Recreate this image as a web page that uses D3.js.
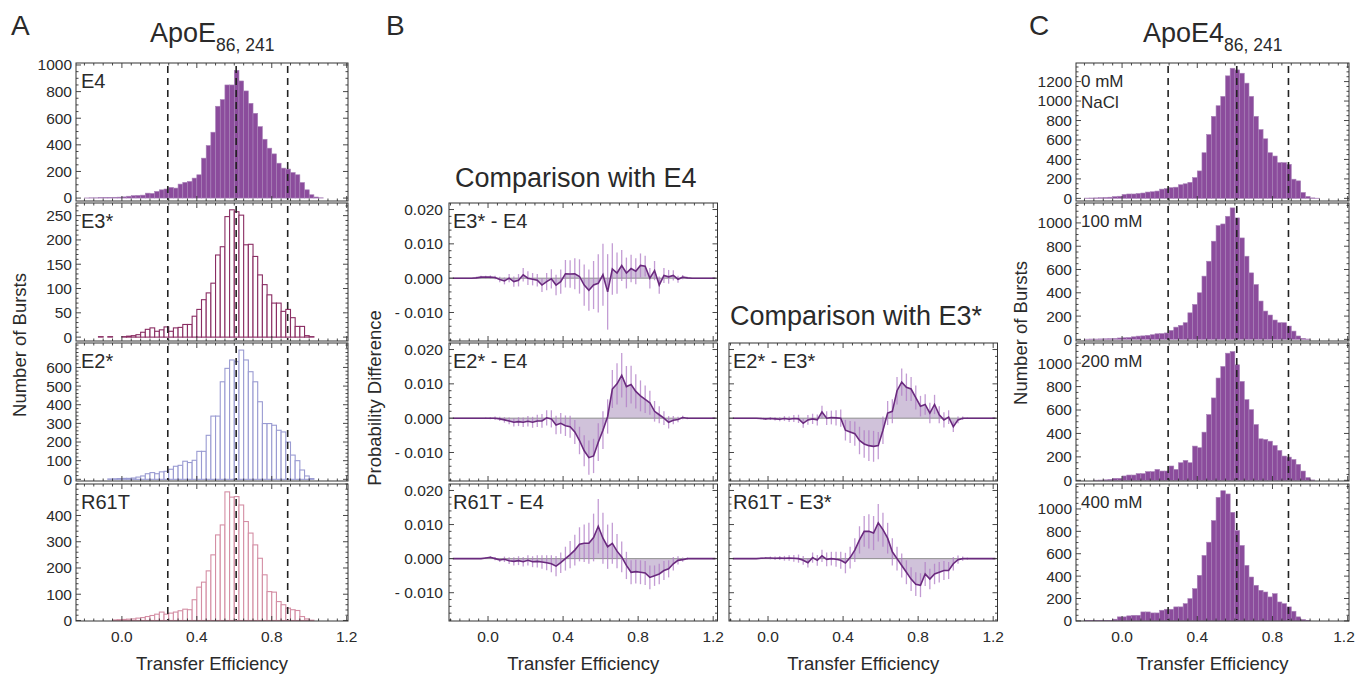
<!DOCTYPE html>
<html><head><meta charset="utf-8">
<script src="https://cdn.jsdelivr.net/npm/d3@7"></script>
<style>
body{margin:0;background:#fff}
svg{display:block}
text{font-family:"Liberation Sans",Arial,Helvetica,sans-serif;fill:#2a2a2a}
</style>
</head><body>
<svg id="chart" width="1356" height="675"></svg>
<script>
// ---------------- DATA ----------------
const binStart = -0.2;      // left edge of first histogram bin (transfer efficiency)
const binWidth = 0.025;
const dashedE = [0.245, 0.61, 0.885];
const xTickValues = [0.0, 0.4, 0.8, 1.2];

// Panel A: ApoE86,241 variants (number of bursts per bin)
const histE4 = [1,2,2,3,4,5,6,7,9,14,18,20,22,
  37,35,50,62,68,80,75,105,118,125,150,175,300,
  395,495,690,740,850,850,960,880,805,712,637,537,442,
  375,332,262,225,218,192,175,117,62,25,8,2,0];
const histE3 = [0,0,0,1,0,1,0,0,1,2,3,5,10,
  16,19,12,15,21,12,19,20,26,26,43,57,77,
  91,111,169,186,248,262,258,251,190,191,166,128,108,
  87,70,70,53,57,40,22,22,3,1,0,0,0];
const histE2 = [0,0,0,0,0,2,3,4,5,5,7,12,18,
  30,36,30,40,43,54,70,75,97,90,102,150,150,
  236,339,339,523,595,640,631,693,640,577,523,416,299,
  299,290,263,254,200,130,100,50,18,4,0,0,0];
const histR61T = [0,0,0,0,0,0,2,3,4,5,6,9,11,
  15,19,24,32,24,28,32,37,43,41,79,127,146,
  189,250,326,364,490,470,472,440,377,333,288,237,174,
  110,108,72,60,47,41,38,15,6,1,0,0,0];

// Panel C: ApoE4 86,241 at different NaCl concentrations
const hist0mM = [3,4,5,7,9,12,18,22,40,45,45,50,55,
  65,68,75,95,100,110,115,140,150,165,214,282,469,
  656,843,952,1048,1259,1337,1320,1286,1184,1048,843,707,612,
  469,435,367,367,350,197,180,61,20,5,2,0,0];
const hist100mM = [2,3,3,4,5,6,8,12,14,16,22,28,30,
  35,40,48,50,55,77,105,120,143,228,300,400,543,
  671,843,977,991,1057,1129,1043,871,714,571,471,329,243,
  209,166,143,143,114,71,29,9,3,0,0,0,0];
const hist200mM = [0,0,1,2,4,8,17,17,37,45,45,57,57,
  74,74,93,79,79,122,93,150,170,150,292,278,411,
  561,703,873,972,1085,1099,986,844,688,603,476,354,348,
  334,297,255,207,198,178,136,79,23,3,0,0,0];
const hist400mM = [2,3,3,4,5,5,15,36,36,45,50,50,80,
  80,71,71,95,104,104,125,125,154,199,288,407,585,
  703,896,1104,1163,1134,970,807,674,496,392,318,273,258,
  214,243,169,154,125,86,36,12,3,0,0,0,0];

// Panel B: probability differences at bin centres
const diffStart = -0.1875;
const diffStep = 0.025;
const dE3E4 = [0,0,0,0,0,0.0001,0.0003,0.0003,0.0003,0.0002,
  -0.0004,-0.0008,0,-0.001,-0.0006,0.001,0,-0.0003,-0.0006,-0.002,
  -0.001,-0.0002,-0.002,-0.001,0.0013,0.0012,0.0013,0.0005,-0.002,-0.0035,
  -0.002,-0.0015,0.001,-0.004,0.0027,0.0015,0.0037,0.0015,0.0028,0.002,
  0.0037,0.0035,0,0.0022,-0.002,0.0008,0.0004,0.0008,-0.0003,0.0003,
  0.0001,0,0,0,0,0,0];
const eE3E4 = [0,0,0,0,0,0.0003,0.0004,0.0004,0.0005,0.0005,
  0.0008,0.001,0.0012,0.0015,0.0018,0.002,0.002,0.0018,0.0018,0.002,
  0.0025,0.0028,0.003,0.0035,0.004,0.004,0.0045,0.005,0.006,0.006,
  0.007,0.0085,0.009,0.011,0.0075,0.006,0.0045,0.0045,0.004,0.0038,
  0.0035,0.003,0.003,0.0028,0.0025,0.0022,0.002,0.0015,0.001,0.0006,
  0.0003,0,0,0,0,0,0];
const dE2E4 = [0,0,0,0,0,0,0,0,0,0,
  -0.0002,-0.0005,-0.0008,-0.0012,-0.001,-0.0012,-0.0009,-0.0012,-0.0008,-0.0008,
  0.0001,-0.0002,-0.002,-0.0015,-0.0022,-0.0025,-0.004,-0.0065,-0.0095,-0.0115,
  -0.011,-0.007,-0.0035,0.0005,0.0085,0.01,0.0125,0.0092,0.0098,0.0078,
  0.0065,0.0055,0.0045,0.002,0.001,0,-0.0012,-0.0006,-0.0004,0.0002,
  0,0,0,0,0,0,0];
const eE2E4 = [0,0,0,0,0,0,0,0.0002,0.0003,0.0005,
  0.0006,0.0008,0.001,0.0012,0.0013,0.0014,0.0015,0.0016,0.0018,0.002,
  0.0022,0.0025,0.0027,0.003,0.003,0.0032,0.0035,0.004,0.0045,0.005,
  0.005,0.0055,0.0055,0.005,0.0055,0.006,0.0065,0.006,0.0055,0.005,
  0.0045,0.004,0.0035,0.003,0.0025,0.002,0.0018,0.0012,0.0008,0.0005,
  0.0003,0,0,0,0,0,0];
const dR61TE4 = [0,0,0,0,0,0,0,0.0002,0.0004,0,
  -0.0004,-0.0002,-0.0006,-0.0008,-0.0006,-0.0009,-0.0005,-0.0009,-0.0008,-0.001,
  -0.0012,-0.0015,-0.0022,-0.0012,0,0.0012,0.0025,0.0042,0.0045,0.0045,
  0.0062,0.0095,0.006,0.0035,0.0045,0.0022,0.0005,-0.002,-0.004,-0.0038,
  -0.004,-0.0042,-0.0055,-0.005,-0.0045,-0.0035,-0.003,-0.0015,-0.0005,-0.0003,
  0,0,0,0,0,0,0];
const eR61TE4 = [0,0,0,0,0,0,0,0.0002,0.0003,0.0005,
  0.0006,0.0008,0.001,0.0012,0.0013,0.0014,0.0015,0.0016,0.0018,0.002,
  0.0022,0.0025,0.003,0.003,0.0035,0.004,0.0045,0.005,0.0055,0.006,
  0.007,0.008,0.0075,0.0065,0.006,0.005,0.0045,0.004,0.0035,0.0035,
  0.0035,0.0035,0.0035,0.003,0.003,0.0028,0.0025,0.002,0.0012,0.0006,
  0.0003,0,0,0,0,0,0];
const dE2E3 = [0,0,0,0,0,0,-0.0001,-0.0002,-0.0001,-0.0002,
  -0.0003,-0.0001,-0.0003,-0.0001,-0.0002,-0.0015,-0.0005,-0.0002,-0.0005,0.0018,
  0,0.0002,0.0001,0,-0.0035,-0.004,-0.0045,-0.0065,-0.0075,-0.008,
  -0.0082,-0.008,-0.0035,0.0015,0.002,0.008,0.0105,0.009,0.0085,0.006,
  0.0035,0.004,0.0015,0.004,0.001,-0.0005,0.0003,-0.0025,-0.0005,0,
  0,0,0,0,0,0,0];
const eE2E3 = [0,0,0,0,0,0,0.0002,0.0003,0.0004,0.0005,
  0.0006,0.0007,0.0008,0.001,0.0012,0.0013,0.0014,0.0015,0.0016,0.0018,
  0.002,0.002,0.0022,0.0025,0.003,0.0032,0.0035,0.004,0.004,0.0045,
  0.0045,0.004,0.004,0.0035,0.0035,0.004,0.004,0.004,0.0035,0.0035,
  0.003,0.003,0.003,0.0028,0.0025,0.0022,0.002,0.0015,0.001,0.0005,
  0.0002,0,0,0,0,0,0];
const dR61TE3 = [0,0,0,0,0,0,0.0001,0.0002,0.0002,0.0001,
  0.0002,0.0001,0.0002,0.0001,0,-0.0005,-0.0012,0.0003,-0.0005,0.0008,
  -0.0002,0,-0.0002,-0.0005,-0.0013,0.0003,0.0025,0.0055,0.008,0.008,
  0.0075,0.0105,0.0085,0.006,0.002,0,-0.002,-0.004,-0.006,-0.0075,
  -0.0078,-0.0045,-0.006,-0.0045,-0.004,-0.0035,-0.0035,-0.0015,-0.0003,0,
  0,0,0,0,0,0,0];
const eR61TE3 = [0,0,0,0,0,0,0.0002,0.0003,0.0004,0.0005,
  0.0006,0.0007,0.0008,0.001,0.0012,0.0013,0.0014,0.0015,0.0016,0.0018,
  0.002,0.002,0.0022,0.0025,0.003,0.0032,0.0035,0.004,0.0045,0.005,
  0.005,0.0055,0.005,0.0045,0.004,0.0035,0.0035,0.0035,0.0035,0.0035,
  0.0035,0.0035,0.003,0.003,0.003,0.0028,0.0025,0.002,0.0012,0.0006,
  0.0003,0,0,0,0,0,0];

// ---------------- DRAWING ----------------
const svg = d3.select("#chart");
const rows = [[63,201],[203,341],[343,481],[484,621]];
const PAGE_W = 1356;
let clipId = 0;

function frameTicks(g, x, y, xMajor, xMinorStep, yMajor, yMinorStep) {
  const [x0,x1] = x.range(), [yb,yt] = y.range();
  const xd = x.domain(), yd = y.domain();
  const tk = g.append("g").attr("stroke","#333").attr("stroke-width",0.9);
  const xMin = d3.range(Math.ceil(xd[0]/xMinorStep)*xMinorStep, xd[1]+1e-9, xMinorStep);
  xMin.forEach(v=>{
    const isMaj = xMajor.some(m=>Math.abs(m-v)<1e-6);
    const L = isMaj?5:2.5, px = x(v);
    tk.append("line").attr("x1",px).attr("x2",px).attr("y1",yb).attr("y2",yb-L);
    tk.append("line").attr("x1",px).attr("x2",px).attr("y1",yt).attr("y2",yt+L);
  });
  const yMin = d3.range(Math.ceil(yd[0]/yMinorStep)*yMinorStep, yd[1]+1e-12, yMinorStep);
  yMin.forEach(v=>{
    const isMaj = yMajor.some(m=>Math.abs(m-v)<yMinorStep*1e-3);
    const L = isMaj?5:2.5, py = y(v);
    tk.append("line").attr("x1",x0).attr("x2",x0+L).attr("y1",py).attr("y2",py);
    tk.append("line").attr("x1",x1).attr("x2",x1-L).attr("y1",py).attr("y2",py);
  });
  g.append("rect").attr("x",x0).attr("y",yt).attr("width",x1-x0).attr("height",yb-yt)
    .attr("fill","none").attr("stroke","#333").attr("stroke-width",1);
}

function xTickLabels(g, x, row) {
  g.append("g").selectAll("text").data(xTickValues).join("text")
    .attr("x",d=>Math.min(x(d), PAGE_W-12)).attr("y",row[1]+21).attr("text-anchor","middle")
    .style("font-size","15.5px").text(d=>d3.format(".1f")(d));
}

function histPanel(opt) {
  const {x, row, yDomain, values, fill, stroke, yMajor, yMinor, label, label2, showX, labelSize} = opt;
  const y = d3.scaleLinear().domain(yDomain).range([row[1], row[0]]);
  const g = svg.append("g");
  const id = "clip"+(clipId++);
  g.append("clipPath").attr("id",id).append("rect")
    .attr("x",x.range()[0]).attr("y",row[0]).attr("width",x.range()[1]-x.range()[0]).attr("height",row[1]-row[0]);
  const bins = values.map((v,i)=>({x0: binStart+i*binWidth, x1: binStart+(i+1)*binWidth, v}));
  g.append("g").attr("clip-path",`url(#${id})`).selectAll("rect").data(bins.filter(b=>b.v>0)).join("rect")
    .attr("x",d=>x(d.x0)).attr("width",d=>x(d.x1)-x(d.x0))
    .attr("y",d=>y(d.v)).attr("height",d=>y(0)-y(d.v))
    .attr("fill",fill).attr("stroke",stroke).attr("stroke-width",fill==="#fff"?1.1:0.6);
  g.append("g").selectAll("line").data(dashedE).join("line")
    .attr("x1",d=>x(d)).attr("x2",d=>x(d)).attr("y1",row[0]+3).attr("y2",row[1]-1)
    .attr("stroke","#222").attr("stroke-width",1.6).attr("stroke-dasharray","7,5");
  frameTicks(g, x, y, xTickValues, 0.05, yMajor, yMinor);
  g.append("g").selectAll("text").data(yMajor).join("text")
    .attr("x",x.range()[0]-4).attr("y",d=>y(d)).attr("dy","0.35em").attr("text-anchor","end")
    .style("font-size","15.5px").text(d=>d3.format("d")(d));
  g.append("text").attr("x",x.range()[0]+5).attr("y",row[0]+ (labelSize>18?25:24))
    .style("font-size",labelSize+"px").text(label);
  if (label2) g.append("text").attr("x",x.range()[0]+5).attr("y",row[0]+45)
    .style("font-size",labelSize+"px").text(label2);
  if (showX) xTickLabels(g, x, row);
}

function diffPanel(opt) {
  const {x, row, values, errors, label, showY, showX} = opt;
  const y = d3.scaleLinear().domain([-0.0183, 0.0219]).range([row[1], row[0]]);
  const g = svg.append("g");
  const pts = values.map((v,i)=>({e: diffStart+i*diffStep, v, err: errors[i]}));
  g.append("path").datum(pts)
    .attr("d", d3.area().x(d=>x(d.e)).y0(y(0)).y1(d=>y(d.v)))
    .attr("fill","#cbbbd6").attr("opacity",0.9);
  g.append("line").attr("x1",x.range()[0]).attr("x2",x.range()[1]).attr("y1",y(0)).attr("y2",y(0))
    .attr("stroke","#8f8f8f").attr("stroke-width",1);
  g.append("g").selectAll("line").data(pts.filter(d=>d.err>0)).join("line")
    .attr("x1",d=>x(d.e)).attr("x2",d=>x(d.e))
    .attr("y1",d=>y(d.v-d.err)).attr("y2",d=>y(d.v+d.err))
    .attr("stroke","#b07cc6").attr("stroke-width",1.3).attr("opacity",0.75);
  g.append("path").datum(pts)
    .attr("d", d3.line().x(d=>x(d.e)).y(d=>y(d.v)))
    .attr("fill","none").attr("stroke","#6a2a7e").attr("stroke-width",1.6);
  const yMajor = [-0.01, 0, 0.01, 0.02];
  frameTicks(g, x, y, xTickValues, 0.05, yMajor, 0.002);
  if (showY) g.append("g").selectAll("text").data(yMajor).join("text")
    .attr("x",x.range()[0]-6).attr("y",d=>y(d)).attr("dy","0.35em").attr("text-anchor","end")
    .style("font-size","15.5px").text(d=> d<0 ? "- "+d3.format(".3f")(-d) : d3.format(".3f")(d));
  g.append("text").attr("x",x.range()[0]+4).attr("y",row[0]+25).style("font-size","20px").text(label);
  if (showX) xTickLabels(g, x, row);
}

// scales
const xA = d3.scaleLinear().domain([-0.245, 1.207]).range([76, 348]);
const xC = d3.scaleLinear().domain([-0.245, 1.207]).range([1076, 1349]);
const xBL = d3.scaleLinear().domain([-0.208, 1.223]).range([449, 717.5]);
const xBR = d3.scaleLinear().domain([-0.208, 1.223]).range([729, 997.5]);

// Panel A
histPanel({x:xA,row:rows[0],yDomain:[-22,1015],values:histE4,fill:"#8b4c9c",stroke:"#a982b8",
  yMajor:[0,200,400,600,800,1000],yMinor:50,label:"E4",labelSize:20});
histPanel({x:xA,row:rows[1],yDomain:[-8,276],values:histE3,fill:"#fff",stroke:"#8a2d63",
  yMajor:[0,50,100,150,200,250],yMinor:10,label:"E3*",labelSize:20});
histPanel({x:xA,row:rows[2],yDomain:[-9,731],values:histE2,fill:"#fff",stroke:"#9a9bd2",
  yMajor:[0,100,200,300,400,500,600],yMinor:20,label:"E2*",labelSize:20});
histPanel({x:xA,row:rows[3],yDomain:[-2,520],values:histR61T,fill:"#fff",stroke:"#d48ea4",
  yMajor:[0,100,200,300,400],yMinor:20,label:"R61T",labelSize:20,showX:true});

// Panel C
histPanel({x:xC,row:rows[0],yDomain:[-27,1391],values:hist0mM,fill:"#8b4c9c",stroke:"#a982b8",
  yMajor:[0,200,400,600,800,1000,1200],yMinor:50,label:"0 mM",label2:"NaCl",labelSize:17});
histPanel({x:xC,row:rows[1],yDomain:[-14,1171],values:hist100mM,fill:"#8b4c9c",stroke:"#a982b8",
  yMajor:[0,200,400,600,800,1000],yMinor:50,label:"100 mM",labelSize:17});
histPanel({x:xC,row:rows[2],yDomain:[-6,1172],values:hist200mM,fill:"#8b4c9c",stroke:"#a982b8",
  yMajor:[0,200,400,600,800,1000],yMinor:50,label:"200 mM",labelSize:17});
histPanel({x:xC,row:rows[3],yDomain:[-1,1223],values:hist400mM,fill:"#8b4c9c",stroke:"#a982b8",
  yMajor:[0,200,400,600,800,1000],yMinor:50,label:"400 mM",labelSize:17,showX:true});

// Panel B
diffPanel({x:xBL,row:rows[1],values:dE3E4,errors:eE3E4,label:"E3* - E4",showY:true});
diffPanel({x:xBL,row:rows[2],values:dE2E4,errors:eE2E4,label:"E2* - E4",showY:true});
diffPanel({x:xBL,row:rows[3],values:dR61TE4,errors:eR61TE4,label:"R61T - E4",showY:true,showX:true});
diffPanel({x:xBR,row:rows[2],values:dE2E3,errors:eE2E3,label:"E2* - E3*",showY:false});
diffPanel({x:xBR,row:rows[3],values:dR61TE3,errors:eR61TE3,label:"R61T - E3*",showY:false,showX:true});

// Titles and labels
const T = svg.append("g");
T.append("text").attr("x",11).attr("y",35).style("font-size","28px").text("A");
T.append("text").attr("x",386).attr("y",35).style("font-size","28px").text("B");
T.append("text").attr("x",1029).attr("y",35).style("font-size","28px").text("C");

const t1 = T.append("text").attr("x",150).attr("y",42).style("font-size","27px");
t1.append("tspan").text("ApoE");
t1.append("tspan").attr("dy",9).style("font-size","17.5px").text("86, 241");
const t2 = T.append("text").attr("x",1143).attr("y",42).style("font-size","27px");
t2.append("tspan").text("ApoE4");
t2.append("tspan").attr("dy",9).style("font-size","17.5px").text("86, 241");

T.append("text").attr("x",455).attr("y",187).style("font-size","27px").text("Comparison with E4");
T.append("text").attr("x",730).attr("y",325).style("font-size","27px").text("Comparison with E3*");

[xA, xBL, xBR, xC].forEach(x=>{
  T.append("text").attr("x",(x.range()[0]+x.range()[1])/2).attr("y",670)
    .attr("text-anchor","middle").style("font-size","18.5px").text("Transfer Efficiency");
});
T.append("text").attr("transform","translate(26,345) rotate(-90)").attr("text-anchor","middle")
  .style("font-size","18.5px").text("Number of Bursts");
T.append("text").attr("transform","translate(1027,333) rotate(-90)").attr("text-anchor","middle")
  .style("font-size","18.5px").text("Number of Bursts");
T.append("text").attr("transform","translate(381,398) rotate(-90)").attr("text-anchor","middle")
  .style("font-size","18.5px").text("Probability Difference");
</script>
</body></html>
